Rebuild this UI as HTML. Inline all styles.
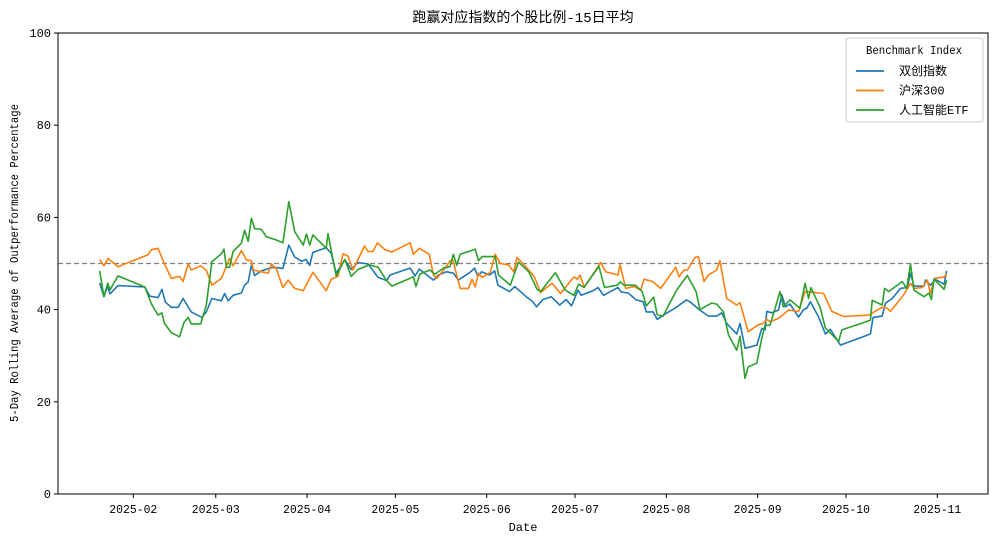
<!DOCTYPE html>
<html><head><meta charset="utf-8"><style>
body{margin:0;background:#fff;}
svg text{font-family:"Liberation Mono","WenQuanYi Zen Hei",monospace;}
</style></head><body>
<svg id="chart" width="998" height="543" xmlns="http://www.w3.org/2000/svg"></svg>
<script>
// days since 2025-02-01
const xTickLabels=["2025-02","2025-03","2025-04","2025-05","2025-06","2025-07","2025-08","2025-09","2025-10","2025-11"];
const xTickDays=[0,28,59,89,120,150,181,212,242,273];
const yTickLabels=[0,20,40,60,80,100];
const seriesNames=["双创指数","沪深300","人工智能ETF"];
const blueDays=[-11.4,-10,-8.7,-7.9,-5.2,3.9,5.6,8.4,9.7,10.9,12.9,15.2,16.9,19.7,23.3,24.8,26.7,29.9,31,32.2,33.9,36.7,37.8,39,40.1,41.2,43.5,46.9,48.6,50.8,52.8,54.8,57.1,58.7,59.9,61,65.5,67.2,68.9,71.8,74,76.3,79.7,83.1,86,87.2,94,95.7,97.1,101.9,103.6,106.4,108.7,110.4,114.2,115.9,117,118.2,121,122.7,123.8,127.8,129.5,133.4,135.7,136.9,139.1,141.9,144.8,147,148.8,151,152.1,156.1,157.8,159.7,162.9,164.6,165.7,168,170.8,173.1,174.2,176.5,177.9,181,184.4,187.8,189,192.4,195.3,198.1,199.8,201.5,204.9,206,207.7,211.7,213.4,214.5,215.1,216.8,219.1,220.2,221.4,223,225.9,227.6,228.7,229.9,232.7,235,236.7,240.1,250.3,251.2,254.3,255.4,257.7,260.5,262.8,263.9,265.1,268.5,269,270.7,272.4,275.3,276.2];
const blueVals=[45.8,42.8,45.1,43.4,45.2,44.9,42.9,42.6,44.4,41.6,40.5,40.5,42.4,39.5,38.3,39.5,42.4,41.9,43.5,41.9,43.1,43.6,45.3,46,49.6,47.4,48.4,49.1,49.1,48.9,54,51.4,50.5,50.9,49.6,52.4,53.4,52.2,47.9,50.8,48.7,50.2,49.9,47,46.3,47.5,49,47.3,48.8,46.4,47.5,48.2,47.9,46.4,48,49,47.2,48.2,47.5,48.4,45.3,43.9,45,42.8,41.7,40.6,42.2,42.8,41,42.2,40.8,44.2,43.1,44.1,44.8,43.1,44.2,44.8,43.8,43.6,42.1,41.7,39.5,39.5,37.9,39.2,40.5,42.1,41.7,39.9,38.6,38.6,39.3,37,34.7,37,31.6,32.3,35.9,35.6,39.6,39.3,39.9,43.2,40.6,41.2,38.4,40,40.3,41.7,38.4,34.7,35.7,32.3,34.7,38.3,38.6,41.4,42.4,44.6,44.8,47.9,45.1,45.1,46.4,45.3,46.5,45.5,48.4];
const orangeDays=[-11.4,-10,-8.6,-5.2,5,6.1,8.4,10.6,12.9,15.7,16.9,18.6,19.7,22.9,24.8,26.7,29.9,32.7,33.9,36.7,38.4,40.1,40.7,45.8,46.9,48.6,50.8,52.6,54.8,57.7,61,65.5,67.2,69.5,71.2,72.9,74.6,78.5,79.7,81.4,82.9,85.5,87.8,94,95.1,97.1,100.5,101.9,103.1,105.9,107.6,108.5,111,113.8,115,116.1,117.2,118.4,121.2,122.9,124.6,127.4,129.2,130.3,134.3,136.2,138.3,142.2,145.1,149.6,150.8,151.7,153.1,158.7,160.4,164.6,165.3,167.2,170.1,172.3,173.4,176.3,179.1,184.2,185.3,187,188.2,190.7,191.9,193.8,195.3,198.1,199.2,201.5,204.9,206,208.8,212.2,213.9,215.1,216.2,219.1,222.5,225.9,228.1,234.4,237.2,241.2,249.7,254.3,256,257.1,261.6,263.9,265.1,267.9,269.6,270.7,272.1,275.3,276.2];
const orangeVals=[50.9,49.5,51.1,49.3,51.9,53,53.3,49.9,46.8,47.2,46.1,49.9,48.6,49.5,48.5,45.3,46.8,51.1,49.5,52.8,50.8,50.6,48.6,47.9,49.9,48.8,44.8,46.4,44.6,44.1,48.1,44.1,46.6,47.2,52.1,51.6,48.6,53.8,52.6,52.6,54.5,53,52.5,54.5,52,53.3,52,47.5,46.8,49,50.6,50.8,44.6,44.6,46.6,44.9,47.9,47,48,52,50,49.7,48.2,51.3,48.6,47.1,43.7,45.7,43.5,47.1,46.6,47.5,44.8,50.2,48.2,47.5,49.7,44.6,45,44.2,46.6,46.1,44.6,49.2,47.1,48.6,48.6,51.3,51.5,46.1,47.5,48.6,50.6,42.4,41,41.5,35.2,36.7,37,37.9,37.4,38.1,39.9,39.6,43.9,43.5,39.6,38.5,38.8,40.5,40.3,39.6,43.2,45.7,44.6,44.8,46.4,43.5,46.8,47.1,47.7];
const greenDays=[-11.4,-10,-8.7,-7.9,-5.2,3.9,6.1,8.4,9.7,10.6,12.9,15.7,17.2,18.6,19.7,22.9,24.8,26.7,29.9,30.8,31.6,32.7,33.9,36.7,37.8,39,40.1,41.2,43.5,45.2,48.1,50.8,52.8,54.8,57.7,58.8,59.9,61,65.5,66.1,68.9,71.8,74,76.3,80.2,83.1,86,87.8,95.1,96,97.3,100.7,102.4,105.3,107.5,108.7,109.8,111,116.1,117.2,118.4,122.9,124,128,130.8,134.3,137.1,138.3,143.3,146.7,149.6,151.2,153,158.1,160,164.3,165.4,166.6,170.5,172.8,174.2,176.7,177.9,179.9,181.9,184.7,188.1,191.1,192.4,196.4,198.1,200.4,202.1,204.9,206,207.7,208.8,211.7,213.4,214.5,216.2,219.6,220.7,223,226.4,228.1,229.3,230.1,233.2,235,239.5,240.6,250.3,250.9,254.3,255.1,256.5,261.1,262.6,263.9,265.1,268.5,270.2,271,271.9,275.3,276.2];
const greenVals=[48.4,42.8,45.7,44.3,47.3,44.9,41.3,38.8,39.3,37,35,34.1,37.2,38.3,36.9,36.9,41,50.4,52.1,53.1,49.2,49.2,52.6,54.4,57.2,54.8,59.8,57.6,57.4,55.8,55.2,54.5,63.4,56.9,54,56.4,54,56.2,53.3,56.5,47.3,50.9,47.2,48.7,49.7,49.2,46.3,45.1,47.1,45,47.7,48.6,47.7,49,49.3,52,49.6,52,53.1,50.6,51.5,51.5,47.5,45.3,50.3,48.2,44.4,43.9,48,44.2,43.1,45.5,44.8,49.4,44.8,45.3,46,45.3,45.3,43.9,40.8,42.7,38.9,38.6,41.1,44.4,47.4,43.9,40,41.4,41.2,39.5,34.5,31.2,34.2,25.1,27.6,28.4,33.8,36.6,36.6,43.9,40.6,42.1,40.3,45.7,42.4,44.8,40.5,36,33.1,35.6,37.7,42,41,44.6,43.9,46.1,44.6,49.9,44.2,42.8,43.6,42.2,46.6,44.4,46.4];
const colors=["#1f77b4","#ff7f0e","#2ca02c"];

const L=58,R=988,T=33,B=494;
const x=d=>133.3+d*2.945;
const y=v=>B-(v/100)*(B-T);
const svg=document.getElementById('chart');
const NS="http://www.w3.org/2000/svg";
function mk(tag,attrs,text){const e=document.createElementNS(NS,tag);for(const k in attrs)e.setAttribute(k,attrs[k]);if(text!==undefined)e.textContent=text;svg.appendChild(e);return e;}

let t=mk('text',{x:523,y:22,'text-anchor':'middle','font-size':14},'跑赢对应指数的个股比例-15日平均');



yTickLabels.forEach(v=>{
  let l=mk('line',{x1:L-4,x2:L,y1:y(v),y2:y(v),stroke:'#000'});
  
  
  let tx=mk('text',{x:L-7,y:y(v)+4,'text-anchor':'end','font-size':12},String(v));
  
  
});
xTickDays.forEach((d,i)=>{
  let l=mk('line',{x1:x(d),x2:x(d),y1:B,y2:B+4,stroke:'#000'});
  
  
  let tx=mk('text',{x:x(d),y:B+19,'text-anchor':'middle','font-size':12,textLength:48,lengthAdjust:'spacingAndGlyphs'},xTickLabels[i]);
  
  
});
t=mk('text',{x:523,y:531,'text-anchor':'middle','font-size':12},'Date');


t=mk('text',{x:0,y:0,'text-anchor':'middle','font-size':12,textLength:318,lengthAdjust:'spacingAndGlyphs',transform:'translate(18,263) rotate(-90)'},'5-Day Rolling Average of Outperformance Percentage');



let ref=mk('line',{x1:L,x2:R,y1:y(50),y2:y(50),stroke:'#808080','stroke-dasharray':'5,3','stroke-width':1.2});



const all=[[blueDays,blueVals],[orangeDays,orangeVals],[greenDays,greenVals]];
const names=['series-chuangye','series-hs300','series-ai-etf'];
all.forEach((s,i)=>{
  const pts=s[0].map((d,j)=>x(d).toFixed(1)+','+y(s[1][j]).toFixed(1)).join(' ');
  let p=mk('polyline',{points:pts,fill:'none',stroke:colors[i],'stroke-width':1.6,'stroke-linejoin':'round'});
  
  
});

let frame=mk('rect',{x:L,y:T,width:R-L,height:B-T,fill:'none',stroke:'#000','stroke-width':1});



let lg=mk('rect',{x:846,y:38,width:137,height:84,fill:'#fff','fill-opacity':0.8,stroke:'#ccc',rx:3});


t=mk('text',{x:914,y:54,'text-anchor':'middle','font-size':12,textLength:96,lengthAdjust:'spacingAndGlyphs'},'Benchmark Index');


seriesNames.forEach((n,i)=>{
  const yy=71+i*19.5;
  let l=mk('line',{x1:856,x2:884,y1:yy,y2:yy,stroke:colors[i],'stroke-width':1.8});
  
  
  let tx=mk('text',{x:899,y:yy+4,'font-size':12},n);
  
  
});
</script>
</body></html>
